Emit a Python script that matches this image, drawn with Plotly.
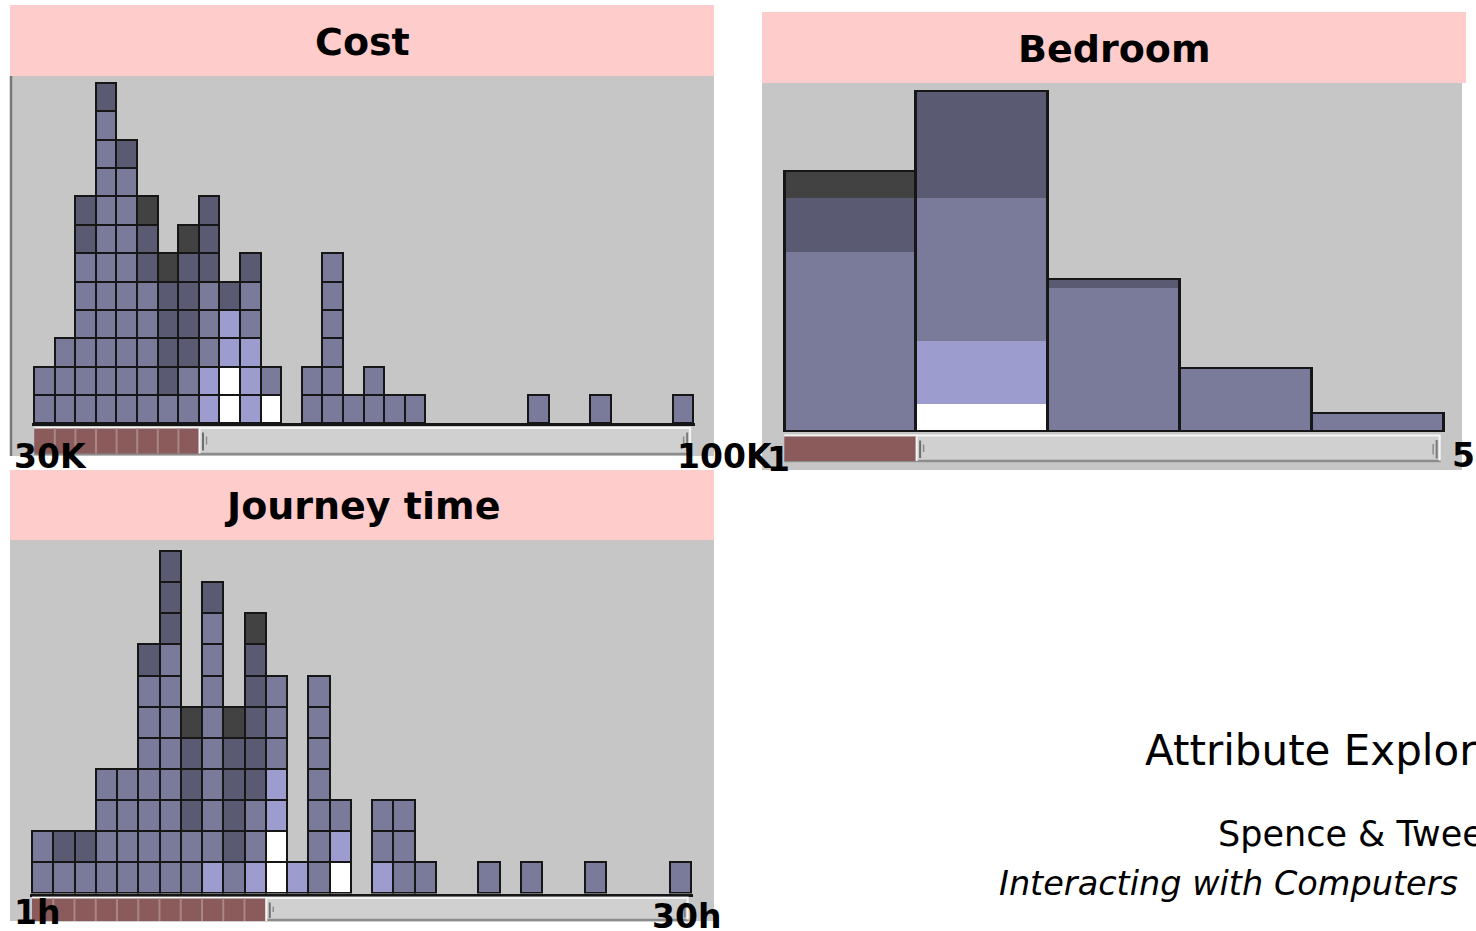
import plotly.graph_objects as go

W, H = 1476, 931

# Shading levels used for the houses (white = satisfies every limit)
SHADE = {"W": "#ffffff", "L": "#9c9ccf", "M": "#7a7a9a", "D": "#5a5a73", "K": "#424242"}
OUTLINE = "#161616"
PANEL = "#c6c6c6"
TITLE_BAND = "#ffcccc"
SLIDER_SEL = "#8b5a5a"

# One string per histogram column, one letter per house, listed bottom to top
cost_cells = [
    "MM", "MMM", "MMMMMMDD", "MMMMMMMMMMMD", "MMMMMMMMMD", "MMMMMDDK",
    "MDDDDK", "MMDDDDK", "LLMMMDDD", "WWLLD", "LLLMMD", "WM", "",
    "MM", "MMMMMM", "M", "MM", "M", "M", "", "", "", "", "", "M",
    "", "", "M", "", "", "", "M",
]
journey_cells = [
    "MM", "MD", "MD", "MMMM", "MMMM", "MMMMMMMD", "MMMMMMMMDDD", "MMDDDK",
    "LMMMMMMMMD", "MDDDDK", "LMMDDDDDK", "WWLLMMM", "L", "MMMMMMM", "WLM",
    "", "LMM", "MMM", "M", "", "", "M", "", "M", "", "", "M", "", "", "", "M",
]

# Bedroom histogram: house counts per shading level for 1..5 bedrooms
bed_rooms = [1, 2, 3, 4, 5]
bed_white = [0, 3, 0, 0, 0]
bed_light = [0, 7, 0, 0, 0]
bed_mid = [20, 16, 16, 7, 2]
bed_dark = [6, 12, 1, 0, 0]
bed_black = [3, 0, 0, 0, 0]

# Number of columns inside each slider's selected range
cost_selected = 8
journey_selected = 11
bed_selected = 1

cost_title, journey_title, bed_title = "Cost", "Journey time", "Bedroom"
cost_ends = ("30K", "100K")
journey_ends = ("1h", "30h")
bed_ends = ("1", "5")


def px(x):
    return x / W


def py(y):
    return 1 - y / H


def x_domain(left, step, lo, hi):
    return [px(left + step * (lo + 0.5)), px(left + step * (hi + 0.5))]


def y_domain(base, step, lo, hi):
    return [py(base - step * lo), py(base - step * hi)]


COST_X = (34.2, 20.6, -0.6, len(cost_cells) - 0.4)
COST_Y = (423.3, 28.38, 0.0, 12.1)
JOUR_X = (32.0, 21.25, -0.6, len(journey_cells) - 0.4)
JOUR_Y = (893.5, 31.1, 0.0, 11.1)
BED_X = (784.3, 131.8, -0.52, len(bed_rooms) - 0.48)
BED_Y = (430.7, 8.95, -0.25, 38.3)

fig = go.Figure()


def add_cells(cells, xa, ya):
    depth = max(len(c) for c in cells)
    xs = list(range(len(cells)))
    for k in range(depth):
        ys = [1 if len(c) > k else None for c in cells]
        cols = [SHADE[c[k]] if len(c) > k else SHADE["M"] for c in cells]
        fig.add_trace(go.Bar(
            x=xs, y=ys, width=1, xaxis=xa, yaxis=ya,
            marker=dict(color=cols, line=dict(color=OUTLINE, width=2.2)),
            hoverinfo="skip", showlegend=False,
        ))


add_cells(cost_cells, "x", "y")
add_cells(journey_cells, "x2", "y2")

bed_x = list(range(len(bed_rooms)))
for vals, key in [(bed_white, "W"), (bed_light, "L"), (bed_mid, "M"),
                  (bed_dark, "D"), (bed_black, "K")]:
    fig.add_trace(go.Bar(
        x=bed_x, y=vals, width=1, xaxis="x3", yaxis="y3",
        marker=dict(color=SHADE[key], line=dict(width=0)),
        hoverinfo="skip", showlegend=False,
    ))
bed_total = [a + b + c + d + e for a, b, c, d, e in
             zip(bed_white, bed_light, bed_mid, bed_dark, bed_black)]
fig.add_trace(go.Bar(
    x=bed_x, y=bed_total, width=1, xaxis="x3", yaxis="y4",
    marker=dict(color="rgba(0,0,0,0)", line=dict(color=OUTLINE, width=2.4)),
    hoverinfo="skip", showlegend=False,
))

shapes = []


def rect(x0, y0, x1, y1, color):
    shapes.append(dict(type="rect", xref="paper", yref="paper",
                       x0=px(x0), x1=px(x1), y0=py(y1), y1=py(y0),
                       fillcolor=color, line=dict(width=0), layer="below"))


# panel backgrounds and title bands
rect(10, 5, 714, 76, TITLE_BAND)
rect(10, 76, 714, 456, PANEL)
rect(10, 470, 714, 540, TITLE_BAND)
rect(10, 540, 714, 921, PANEL)
rect(762, 12, 1466, 83, TITLE_BAND)
rect(762, 83, 1462, 470, PANEL)
shapes.append(dict(type="line", xref="paper", yref="paper",
                   x0=px(11), x1=px(11), y0=py(76), y1=py(456),
                   line=dict(color="#777777", width=2.5)))


def slider(xref, step, end, sel, t0, t1, b0, b1):
    def vline(x, y0, y1, color, w):
        shapes.append(dict(type="line", xref=xref, yref="paper", x0=x, x1=x,
                           y0=py(y1), y1=py(y0), line=dict(color=color, width=w)))

    shapes.append(dict(type="rect", xref=xref, yref="paper", x0=-0.5, x1=end,
                       y0=py(t1), y1=py(t0), fillcolor="#d0d0d0", line=dict(width=0)))
    shapes.append(dict(type="line", xref=xref, yref="paper", x0=-0.5, x1=end,
                       y0=py(t0 + 1.5), y1=py(t0 + 1.5), line=dict(color="#f4f4f4", width=2)))
    shapes.append(dict(type="line", xref=xref, yref="paper", x0=-0.5, x1=end,
                       y0=py(t1 - 1.5), y1=py(t1 - 1.5), line=dict(color="#8c8c8c", width=2.5)))
    shapes.append(dict(type="rect", xref=xref, yref="paper", x0=-0.5, x1=sel - 0.5,
                       y0=py(b1), y1=py(b0), fillcolor=SLIDER_SEL, line=dict(width=0)))
    for j in range(1, sel):
        vline(j - 0.5, b0, b1, "#a98787", 2)
    edge = sel - 0.5
    vline(edge + 0.5 / step, b0, b1, "#f4f4f4", 2)
    vline(edge + 4.0 / step, b0 + 4, b1 - 3, "#6e6e6e", 2)
    vline(edge + 7.5 / step, b0 + 8, b1 - 9, "#8c8c8c", 1.5)
    vline(end - 1.0 / step, t0 + 2, t1 - 2, "#f4f4f4", 2)
    vline(end - 4.0 / step, t0 + 6, t1 - 4, "#7a7a7a", 2)
    vline(end - 7.5 / step, t0 + 10, t1 - 8, "#8c8c8c", 1.5)


slider("x", COST_X[1], 31.39, cost_selected, 426.5, 455.5, 428.5, 453.5)
slider("x2", JOUR_X[1], 30.4, journey_selected, 896.5, 921.5, 898.5, 921)
slider("x3", BED_X[1], 4.48, bed_selected, 434, 462.5, 436.5, 461)

annotations = []


def label(text, x, y, size, anchor="left", family="DejaVu Sans", italic=False):
    if italic:
        text = "<i>" + text + "</i>"
    annotations.append(dict(text=text, xref="paper", yref="paper", x=px(x), y=py(y),
                            xanchor=anchor, yanchor="middle", showarrow=False,
                            font=dict(family=family, size=size, color="black")))


label("<b>" + cost_title + "</b>", 362.5, 42, 38, "center")
label("<b>" + bed_title + "</b>", 1114.5, 49, 38, "center")
label("<b>" + journey_title + "</b>", 361.5, 506, 38, "center")
label("<b>" + cost_ends[0] + "</b>", 12, 457, 33)
label("<b>" + cost_ends[1] + "</b>", 675, 457, 33)
label("<b>" + bed_ends[0] + "</b>", 765, 459, 33)
label("<b>" + bed_ends[1] + "</b>", 1450, 455, 33)
label("<b>" + journey_ends[0] + "</b>", 12, 912, 33)
label("<b>" + journey_ends[1] + "</b>", 650, 916, 33)
label("Attribute Explorer", 1143, 750, 42)
label("Spence &amp; Tweedie", 1216, 834, 35)
label("Interacting with Computers", 997, 883, 33.5, italic=True)


def hidden_axis(dom, rng, **kw):
    d = dict(domain=dom, range=rng, visible=False, fixedrange=True,
             showgrid=False, zeroline=False)
    d.update(kw)
    return d


def base_axis(dom, rng, anchor):
    return dict(domain=dom, range=rng, anchor=anchor, showline=True,
                linecolor=OUTLINE, linewidth=2.5, ticks="", showticklabels=False,
                showgrid=False, zeroline=False, fixedrange=True)


fig.update_layout(
    width=W, height=H, margin=dict(l=0, r=0, t=0, b=0),
    paper_bgcolor="white", plot_bgcolor="rgba(0,0,0,0)",
    barmode="stack", bargap=0, showlegend=False,
    xaxis=base_axis(x_domain(*COST_X), [COST_X[2], COST_X[3]], "y"),
    yaxis=hidden_axis(y_domain(*COST_Y), [COST_Y[2], COST_Y[3]], anchor="x"),
    xaxis2=base_axis(x_domain(*JOUR_X), [JOUR_X[2], JOUR_X[3]], "y2"),
    yaxis2=hidden_axis(y_domain(*JOUR_Y), [JOUR_Y[2], JOUR_Y[3]], anchor="x2"),
    xaxis3=hidden_axis(x_domain(*BED_X), [BED_X[2], BED_X[3]], anchor="y3"),
    yaxis3=hidden_axis(y_domain(*BED_Y), [BED_Y[2], BED_Y[3]], anchor="x3"),
    yaxis4=dict(overlaying="y3", anchor="x3", range=[BED_Y[2], BED_Y[3]],
                visible=False, fixedrange=True, showgrid=False, zeroline=False),
    shapes=shapes, annotations=annotations,
)

fig.write_html("out.html")
